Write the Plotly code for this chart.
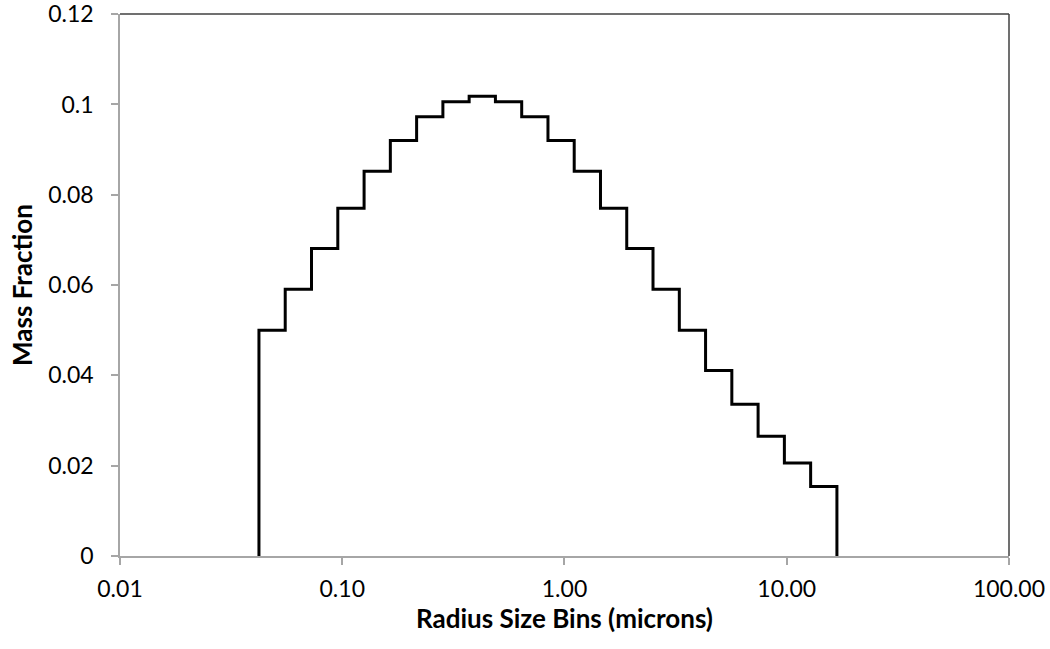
import plotly.graph_objects as go

# Bin edges (microns)
bin_edges = [0.04219, 0.05539, 0.07272, 0.09550, 0.1254, 0.1646, 0.2161, 0.2837,
             0.3724, 0.4889, 0.6419, 0.8427, 1.106, 1.452, 1.906, 2.502, 3.286,
             4.313, 5.662, 7.433, 9.759, 12.81, 16.82]
# Mass fraction per bin
mass_fraction = [0.0500, 0.0591, 0.0681, 0.0770, 0.0852, 0.0920, 0.0973, 0.1006,
                 0.1018, 0.1006, 0.0973, 0.0920, 0.0852, 0.0770, 0.0681, 0.0591,
                 0.0500, 0.0411, 0.0336, 0.0265, 0.0206, 0.0154]

x_tick_vals = [0.01, 0.1, 1, 10, 100]
x_tick_text = ["0.01", "0.10", "1.00", "10.00", "100.00"]
y_tick_vals = [0, 0.02, 0.04, 0.06, 0.08, 0.1, 0.12]
y_tick_text = ["0", "0.02", "0.04", "0.06", "0.08", "0.1", "0.12"]
x_title = "Radius Size Bins (microns)"
y_title = "Mass Fraction"

xs = [bin_edges[0]] + bin_edges
ys = [0] + mass_fraction + [0]

fig = go.Figure()
fig.add_trace(go.Scatter(x=xs, y=ys, mode="lines", line_shape="hv",
                         line=dict(color="black", width=3), showlegend=False,
                         hoverinfo="skip"))

font = "Lato, 'Open Sans', sans-serif"
axis_color = "#a6a6a6"
border_color = "#404040"
fig.update_layout(
    width=1050, height=649,
    margin=dict(l=120, r=41, t=14, b=93),
    paper_bgcolor="white", plot_bgcolor="white",
    font=dict(family=font, size=23, color="black"),
    xaxis=dict(type="log", range=[-2, 2.0001], tickvals=x_tick_vals, ticktext=x_tick_text,
               showgrid=False, zeroline=False, showline=True, linecolor=axis_color,
               linewidth=1.5, ticks="outside", ticklen=7, tickcolor=axis_color,
               tickwidth=1.5, ticklabelstandoff=5, automargin=False,
               ticklabeloverflow="allow"),
    yaxis=dict(range=[0, 0.12003], tickvals=y_tick_vals, ticktext=y_tick_text,
               showgrid=False, zeroline=False, showline=True, linecolor=axis_color,
               linewidth=1.5, ticks="outside", ticklen=7, tickcolor=axis_color,
               tickwidth=1.5, ticklabelstandoff=13, automargin=False,
               ticklabeloverflow="allow",
               title=dict(text="<b>" + y_title + "</b>", font=dict(size=26), standoff=8)),
    annotations=[
        dict(text="<b>" + x_title + "</b>", xref="paper", yref="paper", x=0.5, y=0,
             xanchor="center", yanchor="middle", yshift=-62, showarrow=False,
             font=dict(size=26)),
    ],
    shapes=[
        dict(type="line", xref="paper", yref="paper", x0=0, x1=1, y0=1, y1=1,
             line=dict(color=border_color, width=1.5)),
        dict(type="line", xref="paper", yref="paper", x0=1, x1=1, y0=0, y1=1,
             line=dict(color=border_color, width=1.5)),
    ],
)

fig.write_html("out.html")
